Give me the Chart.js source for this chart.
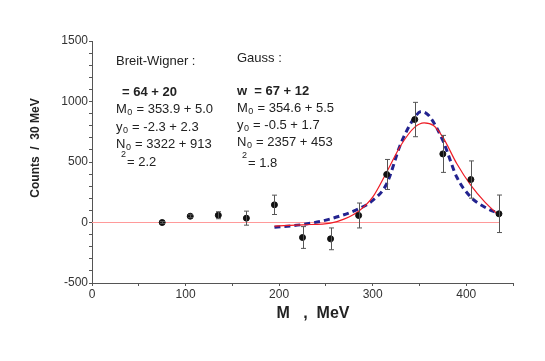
<!DOCTYPE html>
<html>
<head>
<meta charset="utf-8">
<script src="https://cdn.jsdelivr.net/npm/chart.js@4.4.1/dist/chart.umd.min.js"></script>
<style>
  html, body { margin: 0; padding: 0; background: #fff; }
  #wrap { width: 545px; height: 361px; }
</style>
</head>
<body>
<div id="wrap"><canvas id="myChart" width="545" height="361"></canvas></div>
<script>
"use strict";

// measured points
const massX = [75, 105, 135, 165, 195, 225, 255, 285, 315, 345, 375, 405, 435];
const counts = [0, 52, 60, 36, 146, -124, -135, 58, 397, 851, 567, 355, 72];
const countErr = [8, 12, 29, 58, 80, 90, 90, 103, 124, 142, 153, 154, 155];

// Breit-Wigner fit (red)
const bwX = [195, 225, 255, 270, 285, 300, 315, 330, 345, 355, 365, 375, 390, 405, 420, 435];
const bwY = [-30, -19, -5, 30, 93, 209, 416, 636, 788, 824, 802, 705, 485, 306, 168, 58];

// Gauss fit (blue dashed)
const gsX = [195, 225, 255, 285, 300, 315, 330, 345, 352, 360, 375, 390, 405, 420, 435];
const gsY = [-39, -17, 30, 113, 182, 320, 650, 870, 917, 884, 678, 374, 209, 126, 72];

// zero line
const zeroX = [0, 435];
const zeroY = [0, 0];

const xTicks = [0, 100, 200, 300, 400];
const yTicks = [-500, 0, 500, 1000, 1500];

function pts(xs, ys) {
  return xs.map((x, i) => ({ x: x, y: ys[i] }));
}

const errorBars = {
  id: "errorBars",
  afterDatasetsDraw(chart) {
    const ctx = chart.ctx;
    const xs = chart.scales.x, ys = chart.scales.y;
    ctx.save();
    ctx.strokeStyle = "#555";
    ctx.lineWidth = 1;
    for (let i = 0; i < massX.length; i++) {
      const px = Math.round(xs.getPixelForValue(massX[i])) + 0.5;
      const top = ys.getPixelForValue(counts[i] + countErr[i]);
      const bot = ys.getPixelForValue(counts[i] - countErr[i]);
      ctx.beginPath();
      ctx.moveTo(px, top); ctx.lineTo(px, bot);
      ctx.moveTo(px - 2.5, top); ctx.lineTo(px + 2.5, top);
      ctx.moveTo(px - 2.5, bot); ctx.lineTo(px + 2.5, bot);
      ctx.stroke();
    }
    ctx.restore();
  }
};

function subLine(ctx, x, y, parts) {
  // parts: [text, isSub]
  let cx = x;
  for (const [t, sub] of parts) {
    if (sub) {
      ctx.font = "9px 'Liberation Sans', Arial, sans-serif";
      ctx.fillText(t, cx + 0.5, y + 4);
      cx += ctx.measureText(t).width + 1;
    } else {
      ctx.font = "13px 'Liberation Sans', Arial, sans-serif";
      ctx.fillText(t, cx, y);
      cx += ctx.measureText(t).width;
    }
  }
}

const labels = {
  id: "labels",
  afterDraw(chart) {
    const ctx = chart.ctx;
    ctx.save();
    ctx.fillStyle = "#222";
    ctx.textBaseline = "middle";
    ctx.textAlign = "left";

    ctx.font = "13px 'Liberation Sans', Arial, sans-serif";
    ctx.fillText("Breit-Wigner :", 116, 61);
    ctx.font = "bold 13px 'Liberation Sans', Arial, sans-serif";
    ctx.fillText("= 64 + 20", 122, 92);
    subLine(ctx, 116, 109, [["M", false], ["0", true], [" = 353.9 + 5.0", false]]);
    subLine(ctx, 116, 127, [["y", false], ["0", true], [" = -2.3 + 2.3", false]]);
    subLine(ctx, 116, 144, [["N", false], ["0", true], [" = 3322 + 913", false]]);
    ctx.font = "9px 'Liberation Sans', Arial, sans-serif";
    ctx.fillText("2", 121, 155);
    ctx.font = "13px 'Liberation Sans', Arial, sans-serif";
    ctx.fillText("= 2.2", 127, 162);

    ctx.fillText("Gauss :", 237, 58);
    ctx.font = "bold 13px 'Liberation Sans', Arial, sans-serif";
    ctx.fillText("w  = 67 + 12", 237, 91);
    subLine(ctx, 237, 108, [["M", false], ["0", true], [" = 354.6 + 5.5", false]]);
    subLine(ctx, 237, 125, [["y", false], ["0", true], [" = -0.5 + 1.7", false]]);
    subLine(ctx, 237, 142, [["N", false], ["0", true], [" = 2357 + 453", false]]);
    ctx.font = "9px 'Liberation Sans', Arial, sans-serif";
    ctx.fillText("2", 242, 156);
    ctx.font = "13px 'Liberation Sans', Arial, sans-serif";
    ctx.fillText("= 1.8", 248, 163);

    // axis titles
    ctx.fillStyle = "#222";
    ctx.textAlign = "center";
    ctx.font = "bold 16px 'Liberation Sans', Arial, sans-serif";
    ctx.fillText("M   ,  MeV", 313, 314);
    ctx.save();
    ctx.translate(36, 148);
    ctx.rotate(-Math.PI / 2);
    ctx.font = "bold 12px 'Liberation Sans', Arial, sans-serif";
    ctx.fillText("Counts  /  30 MeV", 0, 0);
    ctx.restore();
    ctx.restore();
  }
};

const ctx = document.getElementById("myChart").getContext("2d");
const myChart = new Chart(ctx, {
  type: "scatter",
  data: {
    datasets: [
      {
        label: "zero",
        data: pts(zeroX, zeroY),
        showLine: true,
        borderColor: "#ff9a9a",
        borderWidth: 1,
        pointRadius: 0,
        order: 4,
      },
      {
        label: "Gauss",
        data: pts(gsX, gsY),
        showLine: true,
        borderColor: "#23238f",
        borderWidth: 3,
        borderDash: [6, 4],
        cubicInterpolationMode: "monotone",
        pointRadius: 0,
        order: 3,
      },
      {
        label: "Breit-Wigner",
        data: pts(bwX, bwY),
        showLine: true,
        borderColor: "#ee1c25",
        borderWidth: 1.2,
        cubicInterpolationMode: "monotone",
        pointRadius: 0,
        order: 2,
      },
      {
        label: "data",
        data: pts(massX, counts),
        backgroundColor: "#111",
        borderColor: "#111",
        pointRadius: 3,
        order: 1,
      },
    ],
  },
  options: {
    responsive: false,
    animation: false,
    events: [],
    layout: { padding: { left: 0, right: 32, top: 41, bottom: 0 } },
    plugins: { legend: { display: false }, tooltip: { enabled: false } },
    scales: {
      x: {
        type: "linear",
        min: 0,
        max: 450,
        afterFit: (s) => { s.height = 78; },
        border: { color: "#555", width: 1 },
        grid: { drawOnChartArea: false, tickLength: 3, color: "#555" },
        ticks: {
          stepSize: 50,
          autoSkip: false,
          maxRotation: 0,
          padding: 1,
          color: "#333",
          font: { size: 12, family: "'Liberation Sans', Arial, sans-serif" },
          callback: (v) => (xTicks.includes(v) ? String(v) : ""),
        },
      },
      y: {
        type: "linear",
        min: -500,
        max: 1500,
        afterFit: (s) => { s.width = 92; },
        border: { color: "#555", width: 1 },
        grid: { drawOnChartArea: false, tickLength: 3, color: "#555" },
        ticks: {
          stepSize: 100,
          autoSkip: false,
          padding: 1,
          color: "#333",
          font: { size: 12, family: "'Liberation Sans', Arial, sans-serif" },
          callback: (v) => (yTicks.includes(v) ? String(v) : ""),
        },
      },
    },
  },
  plugins: [errorBars, labels],
});
</script>
</body>
</html>
